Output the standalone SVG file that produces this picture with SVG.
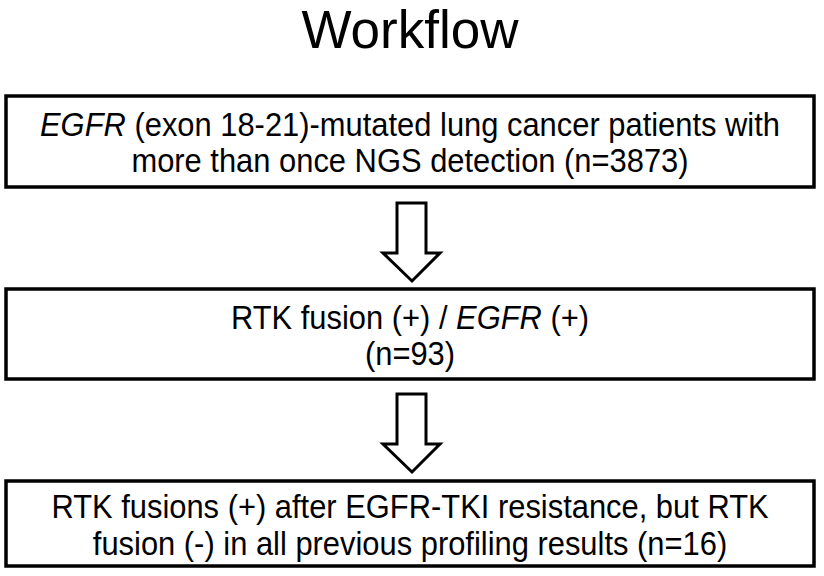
<svg xmlns="http://www.w3.org/2000/svg" width="824" height="576" viewBox="0 0 824 576">
<style>
text{font-family:"Liberation Sans",Arial,sans-serif;fill:#000;text-anchor:middle}
.t{font-size:52px}
.b{font-size:30px}
.box{fill:#fff;stroke:#000;stroke-width:3.5}
.arr{fill:#fff;stroke:#000;stroke-width:3;stroke-linejoin:miter}
</style>
<rect width="824" height="576" fill="#fff"/>
<text id="title" class="t" transform="translate(410,48) scale(1.02,1.02)">Workflow</text>
<g id="node1">
<rect class="box" x="6" y="96" width="808" height="91"/>
<text class="b" transform="translate(410,136) scale(1.03,1.12)"><tspan font-style="italic">EGFR</tspan> (exon 18-21)-mutated lung cancer patients with</text>
<text class="b" transform="translate(410,172) scale(1.03,1.12)">more than once NGS detection (n=3873)</text>
</g>
<g id="node2">
<rect class="box" x="6" y="289" width="808" height="90"/>
<text class="b" transform="translate(410,329) scale(1.03,1.12)">RTK fusion (+) / <tspan font-style="italic">EGFR</tspan> (+)</text>
<text class="b" transform="translate(410,365) scale(1.03,1.12)">(n=93)</text>
</g>
<g id="node3">
<rect class="box" x="6" y="481" width="808" height="85"/>
<text class="b" transform="translate(410,518) scale(1.03,1.12)">RTK fusions (+) after EGFR-TKI resistance, but RTK</text>
<text class="b" transform="translate(410,555) scale(1.03,1.12)">fusion (-) in all previous profiling results (n=16)</text>
</g>
<g id="connectors">
<path class="arr" d="M397,203 H426 V253 H440 L412,281 L383,253 H397 Z"/>
<path class="arr" d="M397,394 H426 V444 H440 L412,472 L383,444 H397 Z"/>
</g>
</svg>
